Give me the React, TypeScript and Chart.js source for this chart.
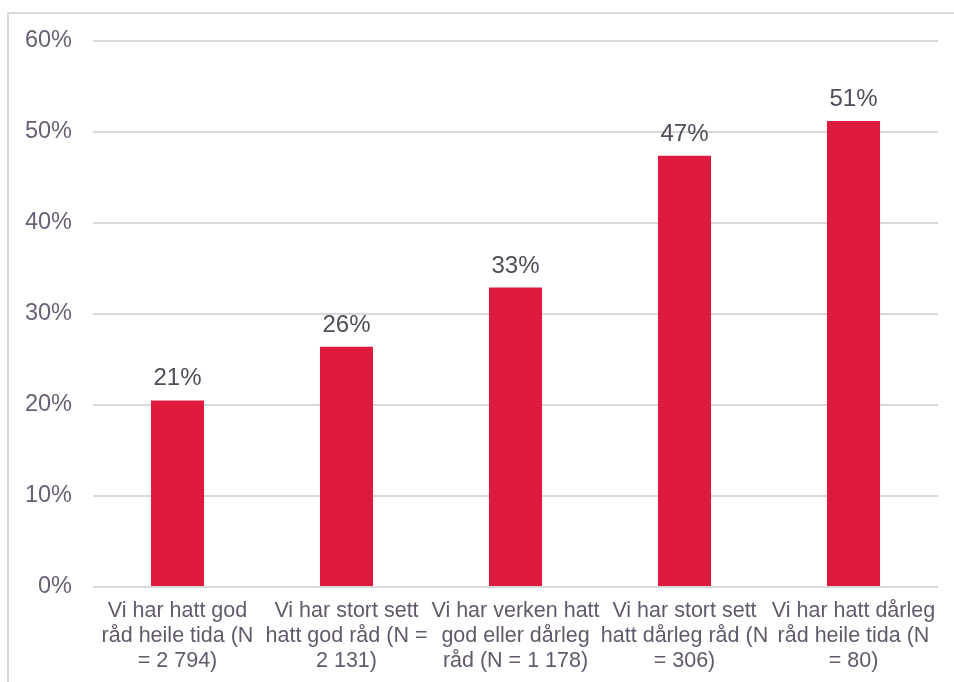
import React, { useEffect, useRef } from "react";
import { Chart, registerables } from "chart.js";

Chart.register(...registerables);

const categories: string[][] = [
  ["Vi har hatt god", "råd heile tida (N", "= 2 794)"],
  ["Vi har stort sett", "hatt god råd (N =", "2 131)"],
  ["Vi har verken hatt", "god eller dårleg", "råd (N = 1 178)"],
  ["Vi har stort sett", "hatt dårleg råd (N", "= 306)"],
  ["Vi har hatt dårleg", "råd heile tida (N", "= 80)"],
];
const values: number[] = [20.5, 26.4, 32.9, 47.4, 51.2];
const valueLabels: string[] = ["21%", "26%", "33%", "47%", "51%"];
const yTicks: number[] = [0, 10, 20, 30, 40, 50, 60];

const TICK = "#6a6075";
const XTEXT = "#62596b";
const LABEL = "#524b59";
const FONT = "'Liberation Sans', Arial, sans-serif";

const labelPlugin = {
  id: "valueLabels",
  afterDatasetsDraw(chart: any) {
    const ctx = chart.ctx;
    const meta = chart.getDatasetMeta(0);
    ctx.save();
    ctx.fillStyle = LABEL;
    ctx.font = `24px ${FONT}`;
    ctx.textAlign = "center";
    ctx.textBaseline = "alphabetic";
    meta.data.forEach((bar: any, i: number) => {
      ctx.fillText(valueLabels[i], bar.x, bar.y - 15);
    });
    ctx.restore();
  },
};

export default function App() {
  const ref = useRef<HTMLCanvasElement>(null);
  useEffect(() => {
    if (!ref.current) return;
    const chart = new Chart(ref.current, {
      type: "bar",
      data: {
        labels: categories,
        datasets: [
          {
            data: values,
            backgroundColor: "#df1a3f",
            barPercentage: 0.314,
            categoryPercentage: 1,
          },
        ],
      },
      options: {
        animation: false,
        responsive: false,
        maintainAspectRatio: false,
        layout: { padding: { top: 41, right: 16, left: 0, bottom: 0 } },
        plugins: { legend: { display: false }, tooltip: { enabled: false } },
        scales: {
          x: {
            grid: { display: false, drawTicks: false },
            border: { display: false },
            ticks: {
              color: XTEXT,
              font: { family: FONT, size: 21.5, lineHeight: 1.16 },
              padding: 12,
              maxRotation: 0,
              autoSkip: false,
            },
            afterFit(scale: any) {
              scale.height = 95;
            },
          },
          y: {
            min: 0,
            max: 60,
            afterBuildTicks(scale: any) {
              scale.ticks = yTicks.map((v) => ({ value: v }));
            },
            grid: { color: "#d9d9d9", lineWidth: 2, drawTicks: false },
            border: { display: false },
            ticks: {
              color: TICK,
              font: { family: FONT, size: 23.5 },
              padding: 21,
              callback: (v: any) => `${v}%`,
            },
            afterFit(scale: any) {
              scale.width = 93;
            },
          },
        },
      },
      plugins: [labelPlugin],
    });
    return () => chart.destroy();
  }, []);
  return (
    <div style={{ position: "fixed", left: 0, top: 0, width: 954, height: 682, background: "#fff" }}>
      <div
        style={{
          position: "absolute",
          left: 7,
          top: 12,
          width: 1000,
          height: 800,
          border: "2px solid #d9d9d9",
          boxSizing: "border-box",
        }}
      />
      <canvas ref={ref} width={954} height={682} style={{ position: "absolute", left: 0, top: 0 }} />
    </div>
  );
}
